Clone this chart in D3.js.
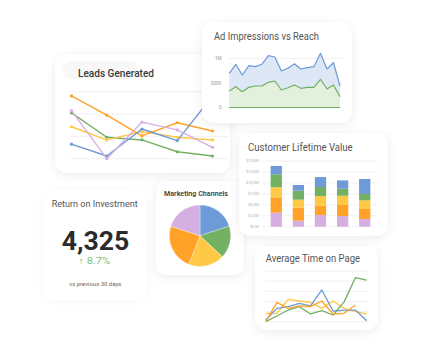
<!DOCTYPE html>
<html>
<head>
<meta charset="utf-8">
<script src="https://cdn.jsdelivr.net/npm/d3@7"></script>
<style>
  html, body { margin: 0; padding: 0; background: #fff; }
  svg { display: block; }
  text { font-family: Roboto, "Noto Sans", sans-serif; }
</style>
</head>
<body>
<svg id="dash" width="433" height="350"></svg>
<script>
// ---- palette ----
const C = { blue: "#6e9ad8", green: "#72b062", yellow: "#ffc845", orange: "#ffa227", purple: "#d5afe2" };

// ---- Leads Generated (5 periods) ----
const leadsPeriods = [1, 2, 3, 4, 5];
const leadsTicks = [0, 10, 20, 30];
const leadsOrange = [28.1, 19.5, 10.2, 16.1, 12.4];
const leadsGreen  = [20.5, 9.6, 8.4, 3.1, 1.2];
const leadsYellow = [14.3, 8.4, 12.1, 9.6, 8.4];
const leadsBlue   = [6.5, 1.2, 13.3, 8.1, 28.0];
const leadsPurple = [21.5, 0.0, 16.4, 12.9, 5.1];

// ---- Ad Impressions vs Reach (thousands, 18 days) ----
const adDays = d3.range(1, 19);
const adTicks = [0, 500, 1000];
const adTickLabels = ["0", "500K", "1M"];
const impressions = [698, 882, 663, 853, 833, 882, 1057, 1031, 745, 800, 894, 786, 812, 833, 1106, 786, 914, 439];
const reach       = [337, 424, 322, 412, 439, 439, 514, 541, 357, 404, 459, 392, 412, 412, 576, 378, 459, 220];

// ---- Customer Lifetime Value (stacked, dollars) ----
const clvCohorts = ["A", "B", "C", "D", "E"];
const clvTicks = [0, 2500, 5000, 7500, 10000, 12500, 15000];
const clvTickLabels = ["$0.00", "$2,500", "$5,000", "$7,500", "$10,000", "$12,500", "$15,000"];
const clvPurple = [3200, 1370, 2670, 2440, 1760];
const clvOrange = [3500, 2970, 2120, 2510, 2280];
const clvYellow = [2300, 1830, 2210, 2120, 1990];
const clvGreen  = [2970, 2050, 2050, 1600, 1440];
const clvBlue   = [1900, 1300, 2280, 1900, 3420];

// ---- Marketing Channels (share, %) ----
const channelNames  = ["Paid Search", "Social", "Email", "Organic", "Referral"];
const channelShares = [20, 17, 19, 24, 20];

// ---- Return on Investment ----
const roiValue = 4325;
const roiChange = 8.7;

// ---- Average Time on Page (10 days) ----
const atpDays = d3.range(1, 11);
const atpTicks = [0, 10, 20, 30, 40, 50];
const atpOrange = [0, 19.1, 13.1, 15.5, 14.8, 20.4, 7.6, 8.3, 16.5];
const atpBlue   = [1.7, 13.1, 14.8, 18.1, 15.7, 31.3, 10.5, 11.5, 11.5, 1.0];
const atpGreen  = [0, 5.6, 11.5, 14.8, 7.6, 10.9, 6.6, 19.8, 43.5, 41.1];
const atpYellow = [8.3, 8.3, 22.1, 20.4, 19.1, 13.1, 20.4, 13.1, 9.9, 7.6];

const svg = d3.select("#dash");

const defs = svg.append("defs");
const f = defs.append("filter").attr("id", "shadow")
  .attr("x", "-30%").attr("y", "-30%").attr("width", "160%").attr("height", "160%");
f.append("feDropShadow").attr("dx", 0).attr("dy", 2).attr("stdDeviation", 5)
  .attr("flood-color", "#000").attr("flood-opacity", 0.08);
const fs = defs.append("filter").attr("id", "softshadow")
  .attr("x", "-30%").attr("y", "-30%").attr("width", "160%").attr("height", "160%");
fs.append("feDropShadow").attr("dx", 0).attr("dy", 1).attr("stdDeviation", 5)
  .attr("flood-color", "#000").attr("flood-opacity", 0.035);

function card(x, y, w, h, rx, filter) {
  svg.append("rect").attr("x", x).attr("y", y).attr("width", w).attr("height", h)
    .attr("rx", rx).attr("fill", "#fff").attr("filter", `url(#${filter || "shadow"})`);
}
// text fitted to a set width (the dashboard uses a narrow face)
function title(x, y, txt, size, color, weight, width) {
  const t = svg.append("text").attr("x", x).attr("y", y).text(txt)
    .attr("font-size", size).attr("fill", color).attr("font-weight", weight || 400);
  if (width) t.attr("textLength", width).attr("lengthAdjust", "spacingAndGlyphs");
  return t;
}
function gridlines(g, ticks, y, x0, x1, color) {
  g.selectAll(null).data(ticks).join("line")
    .attr("x1", x0).attr("x2", x1)
    .attr("y1", d => y(d)).attr("y2", d => y(d))
    .attr("stroke", color || "#ececec").attr("stroke-width", 0.8);
}

// ================= Leads Generated =================
card(55, 54, 175, 119, 12);
svg.append("rect").attr("x", 63).attr("y", 61).attr("width", 76).attr("height", 18)
  .attr("rx", 9).attr("fill", "#f8f8f8");
title(78, 76.5, "Leads Generated", 10.4, "#3a3a3a", 500, 76);
{
  const g = svg.append("g");
  const x = d3.scalePoint().domain(leadsPeriods).range([71.5, 212.5]);
  const y = d3.scaleLinear().domain([0, 30]).range([158.7, 91.7]);
  gridlines(g, leadsTicks, y, 70, 228);
  const line = d3.line().x((d, i) => x(leadsPeriods[i])).y(d => y(d));
  const series = [[leadsGreen, C.green], [leadsYellow, C.yellow], [leadsOrange, C.orange],
                  [leadsBlue, C.blue], [leadsPurple, C.purple]];
  series.forEach(([vals, col]) => {
    g.append("path").attr("d", line(vals)).attr("fill", "none")
      .attr("stroke", col).attr("stroke-width", 1.4).attr("stroke-linejoin", "round");
    g.selectAll(null).data(vals).join("circle")
      .attr("cx", (d, i) => x(leadsPeriods[i])).attr("cy", d => y(d))
      .attr("r", 1.6).attr("fill", col);
  });
}

// ================= Ad Impressions vs Reach =================
card(202, 22, 150, 101, 12);
title(214, 40, "Ad Impressions vs Reach", 10.4, "#555", 400, 105);
{
  const g = svg.append("g");
  const x = d3.scalePoint().domain(adDays).range([229.3, 340]);
  const y = d3.scaleLinear().domain([0, 1000]).range([107.5, 58.5]);
  gridlines(g, adTicks, y, 228, 342, "#eeeeee");
  g.selectAll(null).data(adTicks).join("text")
    .attr("x", 221.5).attr("y", d => y(d) + 1.6).attr("text-anchor", "end")
    .attr("font-size", 4.6).attr("fill", "#999").text((d, i) => adTickLabels[i]);
  const area = d3.area().x((d, i) => x(adDays[i])).y0(y(0)).y1(d => y(d));
  const line = d3.line().x((d, i) => x(adDays[i])).y(d => y(d));
  g.append("path").attr("d", area(impressions)).attr("fill", "#dde7f6");
  g.append("path").attr("d", area(reach)).attr("fill", "#e3f0de");
  g.append("path").attr("d", line(impressions)).attr("fill", "none")
    .attr("stroke", C.blue).attr("stroke-width", 1.2).attr("stroke-linejoin", "round");
  g.append("path").attr("d", line(reach)).attr("fill", "none")
    .attr("stroke", C.green).attr("stroke-width", 1.2).attr("stroke-linejoin", "round");
  g.append("line").attr("x1", x(adDays[0])).attr("x2", x(adDays[adDays.length - 1]))
    .attr("y1", y(0)).attr("y2", y(0)).attr("stroke", C.green).attr("stroke-width", 1.2);
}

// ================= Return on Investment =================
card(43, 190, 104, 110, 14, "softshadow");
title(51.7, 206.5, "Return on Investment", 8.9, "#555", 400, 86);
title(61.7, 249.5, d3.format(",")(roiValue), 25, "#2b2b2b", 700, 67.6);
title(78.3, 263.5, "\u2191 " + roiChange + "%", 8.4, "#78c277", 400, 32);
title(69.3, 285.5, "vs previous 30 days", 5.6, "#666", 400, 52);

// ================= Marketing Channels =================
card(156, 181, 88, 94, 10);
title(164, 195.7, "Marketing Channels", 7.4, "#333", 500, 64);
{
  const cols = [C.blue, C.green, C.yellow, C.orange, C.purple];
  const pie = d3.pie().sort(null).value(d => d);
  const arc = d3.arc().innerRadius(0).outerRadius(30.7);
  const g = svg.append("g").attr("transform", "translate(200,235.7)");
  g.selectAll("path").data(pie(channelShares)).join("path")
    .attr("d", arc).attr("fill", (d, i) => cols[i])
    .attr("stroke", "#fff").attr("stroke-width", 0.3)
    .append("title").text((d, i) => channelNames[i]);
}

// ================= Customer Lifetime Value =================
card(239, 133, 149, 103, 12);
title(248, 150.7, "Customer Lifetime Value", 10.4, "#555", 400, 104.7);
{
  const g = svg.append("g");
  const x = d3.scaleBand().domain(clvCohorts).range([265.2, 375.8])
    .paddingInner(0.49).paddingOuter(0.245);
  const y = d3.scaleLinear().domain([0, 15000]).range([226.7, 161]);
  gridlines(g, clvTicks, y, 262, 378, "#eeeeee");
  g.selectAll(null).data(clvTicks).join("text")
    .attr("x", 259).attr("y", d => y(d) + 1.3).attr("text-anchor", "end")
    .attr("font-size", 3.6).attr("fill", "#aaa").text((d, i) => clvTickLabels[i]);
  const keys = ["purple", "orange", "yellow", "green", "blue"];
  const rows = clvCohorts.map((c, i) => ({
    cohort: c, purple: clvPurple[i], orange: clvOrange[i], yellow: clvYellow[i],
    green: clvGreen[i], blue: clvBlue[i]
  }));
  const stacked = d3.stack().keys(keys)(rows);
  stacked.forEach(layer => {
    g.selectAll(null).data(layer).join("rect")
      .attr("x", d => x(d.data.cohort)).attr("width", x.bandwidth())
      .attr("y", d => y(d[1])).attr("height", d => y(d[0]) - y(d[1]))
      .attr("fill", C[layer.key]);
  });
}

// ================= Average Time on Page =================
card(255, 246, 123, 84, 12);
title(265.7, 261.7, "Average Time on Page", 10.4, "#555", 400, 94.3);
{
  const g = svg.append("g");
  const x = d3.scalePoint().domain(atpDays).range([265.7, 366.7]);
  const y = d3.scaleLinear().domain([0, 50]).range([321.7, 271]);
  gridlines(g, atpTicks, y, 265, 368, "#ececec");
  const line = d3.line().x((d, i) => x(atpDays[i])).y(d => y(d));
  [[atpYellow, C.yellow], [atpBlue, C.blue], [atpGreen, C.green], [atpOrange, C.orange]]
    .forEach(([vals, col]) => {
      g.append("path").attr("d", line(vals)).attr("fill", "none")
        .attr("stroke", col).attr("stroke-width", 1.3).attr("stroke-linejoin", "round");
    });
}
</script>
</body>
</html>
